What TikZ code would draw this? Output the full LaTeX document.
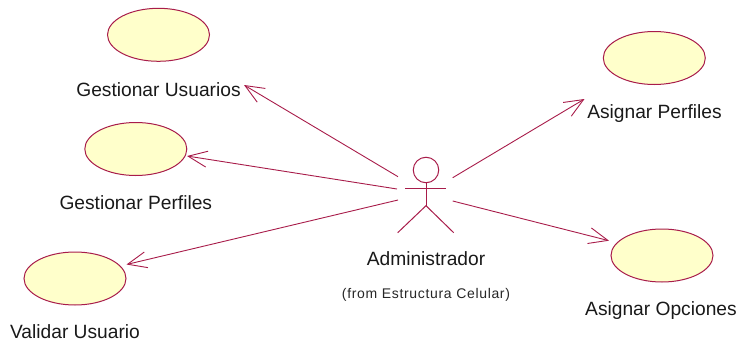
\documentclass[tikz,border=0pt]{standalone}
\usepackage{fontspec}
\setmainfont{Liberation Sans}
\usetikzlibrary{shapes.geometric,arrows.meta}
\definecolor{uml}{HTML}{A81C4A}
\definecolor{ucfill}{HTML}{FFFFCB}
\tikzset{
  usecase/.style={draw=uml,fill=ucfill,ellipse,line width=1pt,minimum width=102pt,minimum height=53pt,inner sep=0pt},
  lbl/.style={inner sep=0pt,anchor=base,font=\fontsize{19.2}{22}\selectfont,text=black!90},
  small/.style={inner sep=0pt,anchor=base,font=\fontsize{14}{16}\selectfont\addfontfeature{LetterSpace=4.8},text=black!85},
  assoc/.style={draw=uml,line width=0.9pt,-{Straight Barb[length=19pt,width=16pt,line width=0.9pt]}},
  limb/.style={draw=uml,line width=1pt}
}
\begin{document}
\begin{tikzpicture}[x=1pt,y=-1pt]
\useasboundingbox (0,0) rectangle (740,343);
\node[usecase] (gu) at (158.5,34.8) {};
\node[usecase] (gp) at (135.8,149) {};
\node[usecase] (vu) at (75,278.5) {};
\node[usecase] (ap) at (654.3,58) {};
\node[usecase] (ao) at (662,255.5) {};
\node[lbl] (gul) at (158.5,96) {Gestionar Usuarios};
\node[lbl] (gpl) at (135.8,209.5) {Gestionar Perfiles};
\node[lbl] (vul) at (75,338.5) {Validar Usuario};
\node[lbl] (apl) at (654.5,118.5) {Asignar Perfiles};
\node[lbl] (aol) at (661,315) {Asignar Opciones};
\node[lbl] (adm) at (426,265.7) {Administrador};
\node[small] (frm) at (426,298) {(from Estructura Celular)};
% actor
\node[draw=uml,line width=1pt,circle,minimum size=25.5pt,inner sep=0pt] (head) at (426,170) {};
\coordinate (hip) at (426,205.7);
\coordinate (armL) at (405.3,188.7);
\coordinate (armR) at (446,188.7);
\coordinate (legL) at (397.7,232.7);
\coordinate (legR) at (453.7,232.7);
\draw[limb] (head.south) -- (hip);
\draw[limb] (armL) -- (armR);
\draw[limb] (legL) -- (hip) -- (legR);
% connectors
\coordinate (a1) at (398,176.7);
\coordinate (a2) at (397,189);
\coordinate (a3) at (398,200);
\coordinate (a4) at (452.7,177.7);
\coordinate (a5) at (452.7,201);
\coordinate (t1) at (244,85);
\coordinate (t2) at (187,156);
\coordinate (t3) at (126.5,264.5);
\coordinate (t4) at (584.5,99);
\coordinate (t5) at (609,240.7);
\draw[assoc] (a1) -- (t1);
\draw[assoc] (a2) -- (t2);
\draw[assoc] (a3) -- (t3);
\draw[assoc] (a4) -- (t4);
\draw[assoc] (a5) -- (t5);
\end{tikzpicture}
\end{document}
